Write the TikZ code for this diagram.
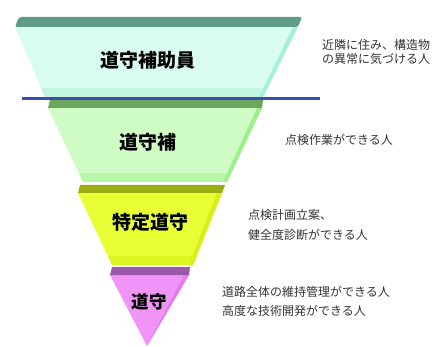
\documentclass[tikz,border=0pt]{standalone}
\usepackage{fontspec}
\newfontfamily\jp{Noto Sans CJK JP}
\tikzset{
  x=1pt,y=-1pt,
  title/.style={font=\jp\bfseries\fontsize{19}{21}\selectfont, text=black, inner sep=0pt},
  desc/.style={font=\jp\fontsize{12}{14}\selectfont, text=black!80, inner sep=0pt, anchor=west, align=left},
}
\definecolor{tAtop}{HTML}{5E9C88}
\definecolor{tAbody}{HTML}{D9FCF1}
\definecolor{tAside}{HTML}{A6F0D6}
\definecolor{tAbot}{HTML}{C4F6E2}
\definecolor{tBtop}{HTML}{6BA85E}
\definecolor{tBbody}{HTML}{CFFCC4}
\definecolor{tBside}{HTML}{9CF08C}
\definecolor{tBbot}{HTML}{B8F8A8}
\definecolor{tCtop}{HTML}{9AAC12}
\definecolor{tCbody}{HTML}{E8FF35}
\definecolor{tCside}{HTML}{D6F018}
\definecolor{tCbot}{HTML}{DCF522}
\definecolor{tDtop}{HTML}{9A58A8}
\definecolor{tDbody}{HTML}{F094F8}
\definecolor{tDside}{HTML}{E47CF0}
\definecolor{sepline}{HTML}{3A4DB0}
\begin{document}
\begin{tikzpicture}
\useasboundingbox (0,0) rectangle (441,347);
\fill[white] (0,0) rectangle (441,347);
% segment 1
\fill[tAbody] (15,27) -- (298,27) -- (263,97) -- (45,97) -- cycle;
\fill[tAbot] (41,88) -- (267.5,88) -- (263,97) -- (45,97) -- cycle;
\fill[tAside] (293,27) -- (298,27) -- (263,97) -- (259,97) -- cycle;
\fill[tAtop, rounded corners=2pt] (19,17) -- (302,17) -- (298,27) -- (15,27) -- cycle;
% segment 2
\fill[tBbody] (48,108) -- (262,108) -- (227,182) -- (83,182) -- cycle;
\fill[tBbot] (79,173) -- (231,173) -- (227,182) -- (83,182) -- cycle;
\fill[tBside] (257,108) -- (262,108) -- (227,182) -- (223,182) -- cycle;
\fill[tBtop] (50,100) -- (263,100) -- (262,108) -- (48,108) -- cycle;
% separator
\coordinate (sepL) at (22,99);
\coordinate (sepR) at (320,99);
\draw[sepline, line width=3pt] (sepL) -- (sepR);
% segment 3
\fill[tCbody] (78,193) -- (222,193) -- (193,265) -- (112,265) -- cycle;
\fill[tCbot] (108,256) -- (197,256) -- (193,265) -- (112,265) -- cycle;
\fill[tCside] (217,193) -- (222,193) -- (193,265) -- (189,265) -- cycle;
\fill[tCtop] (80,185) -- (225,185) -- (222,193) -- (78,193) -- cycle;
% segment 4
\fill[tDbody] (110,275) -- (189,275) -- (147,346) -- cycle;
\fill[tDside] (184,275) -- (189,275) -- (147,346) -- cycle;
\fill[tDtop] (112,267) -- (190,267) -- (189,275) -- (110,275) -- cycle;
% titles
\node[title] (t1) at (148,60) {道守補助員};
\node[title] (t2) at (148,142) {道守補};
\node[title] (t3) at (150,222) {特定道守};
\node[title, font=\jp\bfseries\fontsize{17.5}{19}\selectfont] (t4) at (149,302) {道守};
% descriptions
\node[desc] (d1) at (322,52) {近隣に住み、構造物\\の異常に気づける人};
\node[desc] (d2) at (285,140) {点検作業ができる人};
\node[desc, font=\jp\fontsize{12}{20.5}\selectfont] (d3) at (248,225) {点検計画立案、\\健全度診断ができる人};
\node[desc, font=\jp\fontsize{12}{19}\selectfont] (d4) at (222,301) {道路全体の維持管理ができる人\\高度な技術開発ができる人};
\end{tikzpicture}
\end{document}
